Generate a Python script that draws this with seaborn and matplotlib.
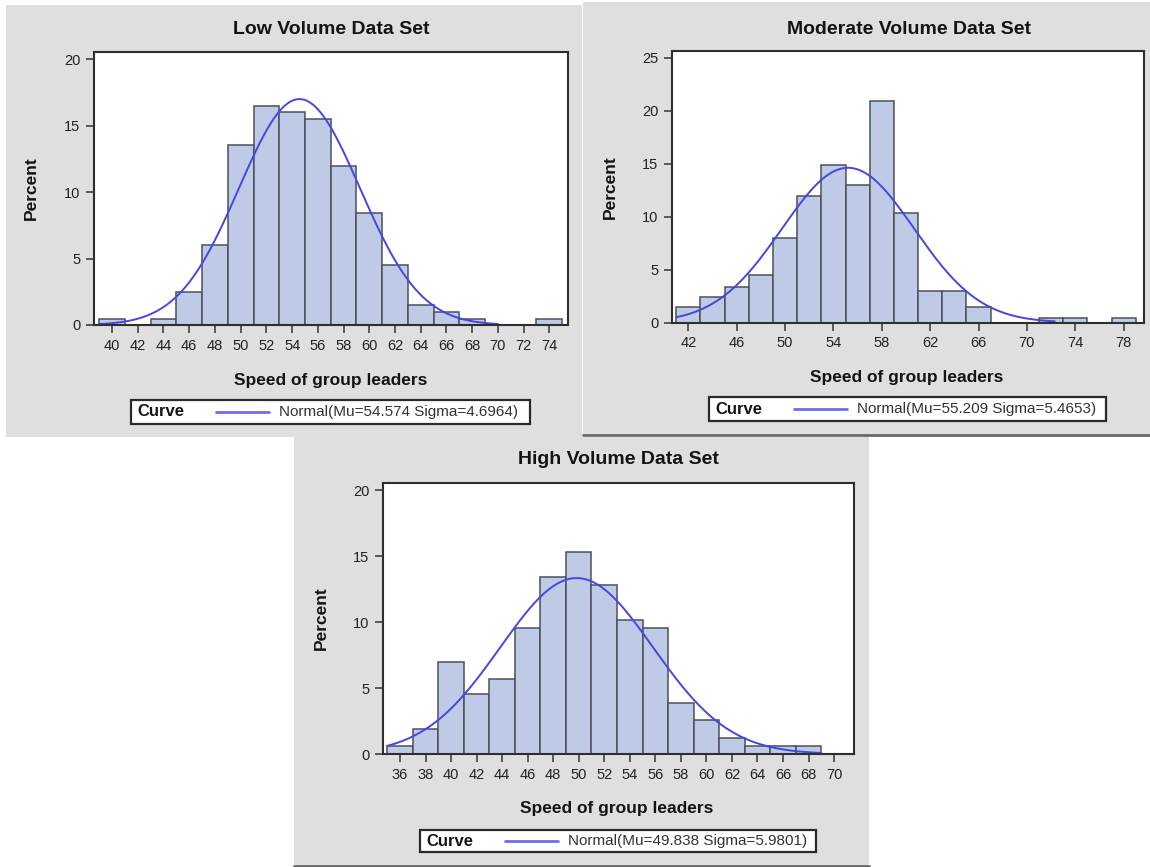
import numpy as np
import pandas as pd
import seaborn as sns
import matplotlib
matplotlib.use("Agg")
from matplotlib import pyplot as plt
from matplotlib.patches import Rectangle
from matplotlib.lines import Line2D

# bin midpoints (bin width 2) and percent per bin
low_mid = list(range(40, 75, 2))
low_pct = [0.45, 0, 0.45, 2.5, 6.0, 13.5, 16.5, 16.0, 15.5, 11.95, 8.45, 4.5, 1.5, 1.0, 0.45, 0, 0, 0.45]

mod_mid = list(range(42, 79, 2))
mod_pct = [1.42, 2.43, 3.35, 4.49, 7.96, 11.91, 14.88, 12.95, 20.88, 10.36, 2.97, 2.97, 1.42, 0, 0, 0.47, 0.47, 0, 0.47]

high_mid = list(range(36, 69, 2))
high_pct = [0.63, 1.89, 6.98, 4.54, 5.72, 9.58, 13.39, 15.33, 12.81, 10.18, 9.55, 3.86, 2.57, 1.18, 0.63, 0.6, 0.63]

# fitted normal curves (from the legends)
low_fit = (54.574, 4.6964)
mod_fit = (55.209, 5.4653)
high_fit = (49.838, 5.9801)

titles = ["Low Volume Data Set", "Moderate Volume Data Set", "High Volume Data Set"]
low_ticks = list(range(40, 75, 2))
mod_ticks = list(range(42, 79, 4))
high_ticks = list(range(36, 71, 2))

W, H = 1150, 867
BG = "#dfdfdf"
BAR = "#bfcbe6"
EDGE = "#4a505c"
CURVE = "#4646e0"
TXT = "#141414"

sns.set_theme(style="white")
plt.rcParams["font.family"] = ["Liberation Sans", "DejaVu Sans"]

fig = plt.figure(figsize=(W / 100, H / 100), dpi=100)


def fx(x):
    return x / W


def fy(y):
    return 1 - y / H


def bg_box(x0, y0, x1, y1, shadow=False):
    fig.patches.append(Rectangle((fx(x0), fy(y1)), (x1 - x0) / W, (y1 - y0) / H,
                                 transform=fig.transFigure, facecolor=BG, edgecolor="none", zorder=-2))
    if shadow:
        fig.lines.append(Line2D([fx(x0), fx(x1)], [fy(y1 - 1), fy(y1 - 1)], transform=fig.transFigure,
                                color="#6a6a6a", lw=2, zorder=-1))


def panel(box, mids, pct, fit, curve_rng, xticks, xlim, ylim, yticks, title, title_xy, xlab_xy, ylab_x, legbox):
    L, T, R, B = box
    ax = fig.add_axes([fx(L), fy(B), (R - L) / W, (B - T) / H])
    ax.set_zorder(1)
    df = pd.DataFrame({"speed": mids, "pct": pct})
    sns.histplot(data=df, x="speed", weights="pct", binwidth=2, binrange=(mids[0] - 1, mids[-1] + 1),
                 stat="count", color=BAR, edgecolor=EDGE, linewidth=1.1, alpha=1, ax=ax)
    mu, sd = fit
    xs = np.linspace(curve_rng[0], curve_rng[1], 400)
    ys = 100 * 2 * np.exp(-0.5 * ((xs - mu) / sd) ** 2) / (sd * np.sqrt(2 * np.pi))
    sns.lineplot(x=xs, y=ys, color=CURVE, linewidth=1.4, ax=ax)

    ax.set_xlim(*xlim)
    ax.set_ylim(*ylim)
    ax.set_xticks(xticks)
    ax.set_yticks(yticks)
    ax.set_xlabel("")
    ax.set_ylabel("")
    ax.set_facecolor("white")
    for s in ax.spines.values():
        s.set_color("#2e2e2e")
        s.set_linewidth(1.5)
    ax.tick_params(axis="both", direction="out", length=5.8, width=1.1, color="#333333",
                   labelsize=10.5, labelcolor="#222222", pad=4, bottom=True, left=True)

    fig.text(fx(title_xy[0]), fy(title_xy[1]), title, ha="center", va="center",
             fontsize=14, fontweight="bold", color=TXT)
    fig.text(fx(xlab_xy[0]), fy(xlab_xy[1]), "Speed of group leaders", ha="center", va="center",
             fontsize=12.5, fontweight="bold", color=TXT)
    fig.text(fx(ylab_x), fy((T + B) / 2), "Percent", ha="center", va="center", rotation=90,
             fontsize=12.5, fontweight="bold", color=TXT)

    # legend box: "Curve" label, line sample, description
    bx0, by0, bx1, by1 = legbox
    fig.patches.append(Rectangle((fx(bx0), fy(by1)), (bx1 - bx0) / W, (by1 - by0) / H,
                                 transform=fig.transFigure, facecolor="white", edgecolor="#2a2a2a",
                                 lw=1.6, zorder=2))
    ym = (by0 + by1) / 2
    fig.text(fx(bx0 + 6), fy(ym), "Curve", ha="left", va="center", fontsize=12,
             fontweight="bold", color=TXT, zorder=3)
    fig.lines.append(Line2D([fx(bx0 + 85), fx(bx0 + 138)], [fy(ym), fy(ym)], transform=fig.transFigure,
                            color="#6c6cf0", lw=2, zorder=3))
    fig.text(fx(bx0 + 148), fy(ym), "Normal(Mu=%.3f Sigma=%.4f)" % fit, ha="left", va="center",
             fontsize=11, color="#333333", zorder=3)
    return ax


bg_box(6, 5, 582, 437)
bg_box(583, 2, 1150, 436, shadow=True)
bg_box(294, 437, 869, 867, shadow=True)

panel((94, 52, 568, 325), low_mid, low_pct, low_fit, (39, 70), low_ticks, (38.6, 75.45), (0, 20.53),
      [0, 5, 10, 15, 20], titles[0], (331, 30), (331, 380), 31, (131, 400, 530, 424))
panel((672, 51, 1144, 322.5), mod_mid, mod_pct, mod_fit, (41, 72.3), mod_ticks, (40.65, 79.68), (0, 25.62),
      [0, 5, 10, 15, 20, 25], titles[1], (909, 29), (907, 377), 610, (709, 397, 1106, 421))
panel((383, 483, 854, 754), high_mid, high_pct, high_fit, (35, 69), high_ticks, (34.67, 71.56), (0, 20.55),
      [0, 5, 10, 15, 20], titles[2], (618, 460), (617, 808), 321, (420, 830, 816, 852))

fig.savefig("out.png", dpi=100, facecolor="white")
